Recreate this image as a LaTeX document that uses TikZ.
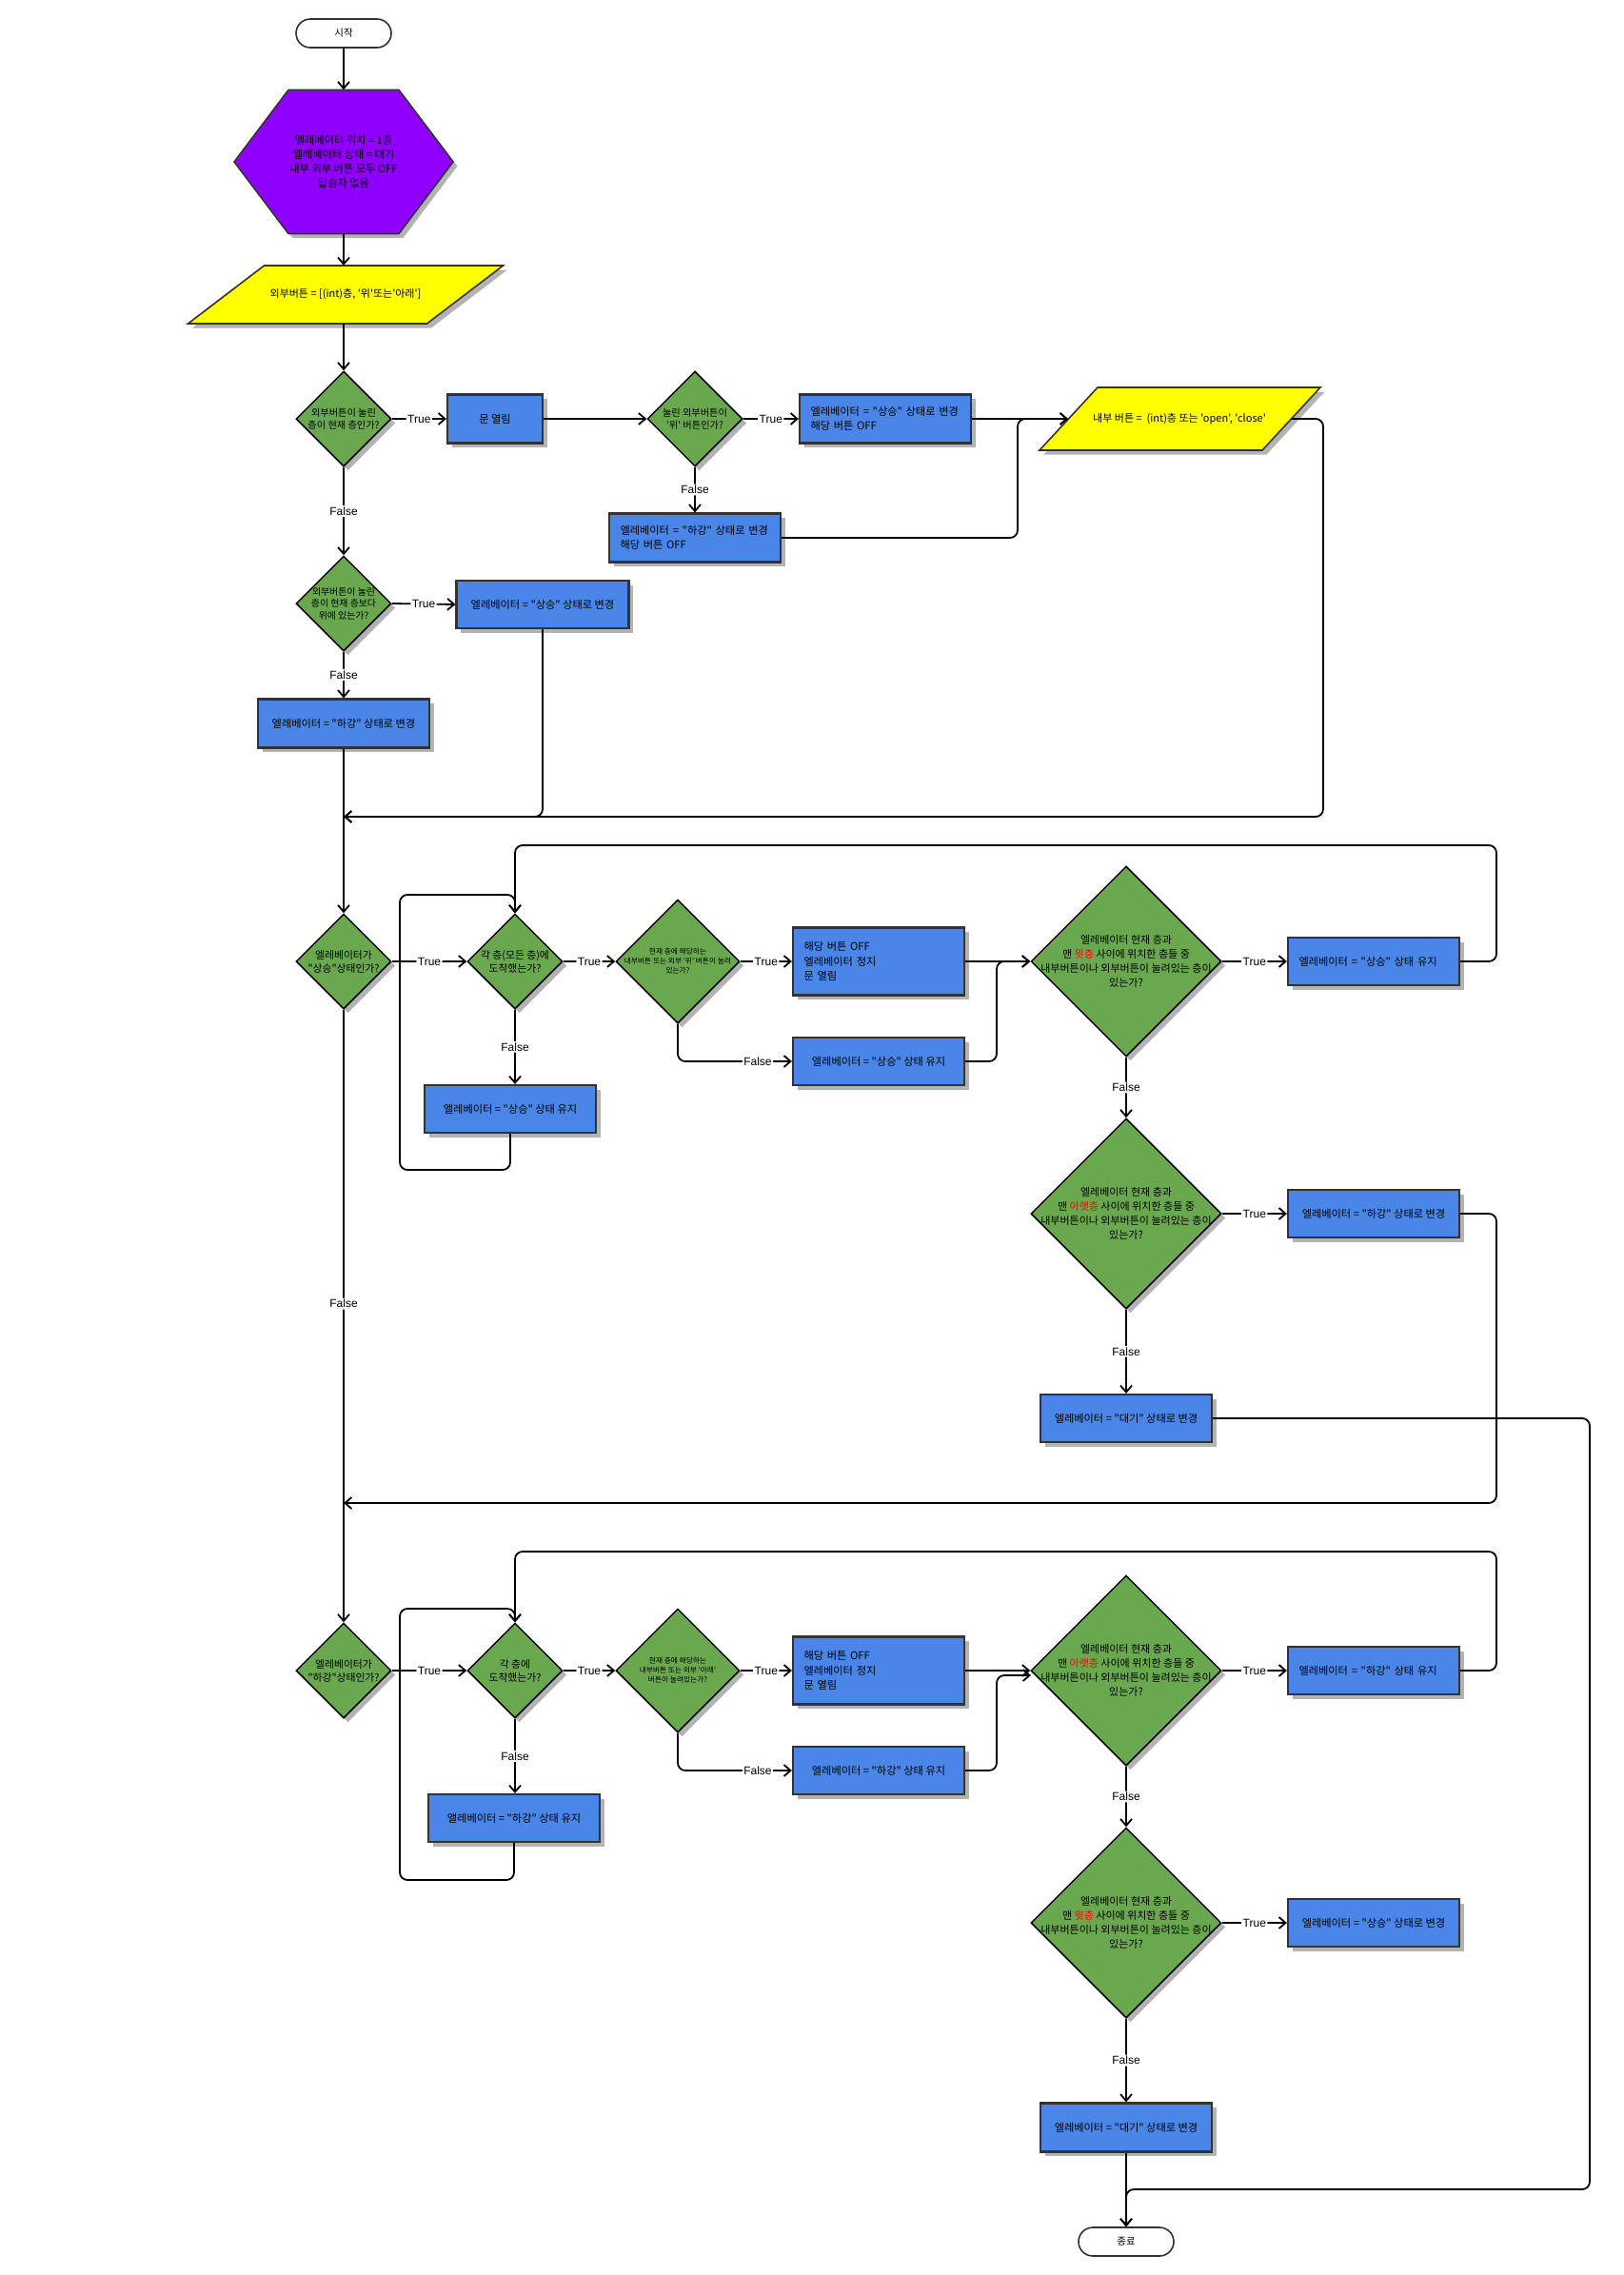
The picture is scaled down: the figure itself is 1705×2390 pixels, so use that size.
\documentclass[tikz,border=0pt]{standalone}
\usepackage{fontspec}
\newfontfamily\kr{Noto Sans CJK KR}
\newfontfamily\lbf{Liberation Sans}
\usetikzlibrary{shapes.geometric,shadows,arrows.meta}
\definecolor{hexpurple}{HTML}{9000FF}
\definecolor{yel}{HTML}{FFFF00}
\definecolor{grn}{HTML}{6AA84F}
\definecolor{blu}{HTML}{4A86E8}
\definecolor{bord}{HTML}{333333}
\definecolor{shd}{HTML}{B3B3B3}
\definecolor{redt}{HTML}{FF0000}
\newcommand{\kfs}[2]{\kr\fontsize{#1}{#2}\selectfont}
\begin{document}
\begin{tikzpicture}[x=1pt,y=-1pt,
  sh/.style={general shadow={fill=shd,shadow xshift=4.5pt,shadow yshift=-4.5pt}},
  term/.style={rectangle,rounded corners=15pt,draw=bord,line width=1.6pt,fill=white,minimum width=100pt,minimum height=30pt,inner sep=0pt,font=\kfs{10.5}{12}},
  dia/.style={diamond,draw=black,line width=1.5pt,fill=grn,inner sep=0pt,sh},
  dtext/.style={align=center,inner sep=0pt,font=\kfs{10.8}{14}},
  box/.style={rectangle,draw=bord,line width=2.2pt,fill=blu,inner sep=0pt,minimum width=180pt,minimum height=50pt,align=center,font=\kfs{11.2}{15.5},sh},
  lbox/.style={box,text width=157pt,align=left},
  conn/.style={draw=black,line width=1.8pt,rounded corners=8pt,-{Straight Barb[length=7pt,width=12pt]}},
  lbl/.style={fill=white,inner sep=1.5pt,font=\lbf\fontsize{12}{14}\selectfont},
  ptext/.style={inner sep=0pt,align=center,font=\kfs{11}{15}},
]
\fill[white] (0,0) rectangle (1705,2390);
\useasboundingbox (0,0) rectangle (1705,2390);

% ---------- top chain ----------
\node[term] (start) at (361,35) {시작};

\begin{scope}[shift={(4.5,4.5)}]
\fill[shd] (246,170) -- (303,94.5) -- (419,94.5) -- (476,170) -- (419,245.5) -- (303,245.5) -- cycle;
\end{scope}
\draw[bord,line width=1.6pt,fill=hexpurple] (246,170) -- (303,94.5) -- (419,94.5) -- (476,170) -- (419,245.5) -- (303,245.5) -- cycle;
\node[inner sep=0pt,minimum width=230pt,minimum height=151pt,align=center,font=\kfs{11.2}{15}] (hex) at (361,170) {엘레베이터 위치 = 1층\\엘레베이터 상태 = 대기\\내부 외부 버튼 모두 OFF\\탑승자 없음};

\begin{scope}[shift={(4.5,4.5)}]
\fill[shd] (197.5,340) -- (448.5,340) -- (528.5,279) -- (277.5,279) -- cycle;
\end{scope}
\draw[bord,line width=1.6pt,fill=yel] (197.5,340) -- (448.5,340) -- (528.5,279) -- (277.5,279) -- cycle;
\node[ptext,minimum width=331pt,minimum height=61pt] (p1) at (363,309.5) {외부버튼 = [(int)층, '위'또는'아래']};

\node[dia,minimum width=100pt,minimum height=100pt] (d1) at (361,440) {};
\node[dtext,font=\kfs{10.2}{13.5}] (d1t) at (d1) {외부버튼이 눌린\\층이 현재 층인가?};
\node[box,minimum width=100pt,minimum height=51pt] (b1) at (520,440) {문 열림};
\node[dia,minimum width=100pt,minimum height=100pt] (d2) at (730,440) {};
\node[dtext,font=\kfs{10.2}{13.5}] (d2t) at (d2) {눌린 외부버튼이\\'위' 버튼인가?};
\node[lbox,minimum height=51pt] (b2) at (930,440) {엘레베이터 = "상승" 상태로 변경\\해당 버튼 OFF};
\node[lbox,minimum height=51pt] (b3) at (730,565) {엘레베이터 = "하강" 상태로 변경\\해당 버튼 OFF};

\begin{scope}[shift={(4.5,4.5)}]
\fill[shd] (1092,473) -- (1326,473) -- (1387,407) -- (1153,407) -- cycle;
\end{scope}
\draw[bord,line width=1.6pt,fill=yel] (1092,473) -- (1326,473) -- (1387,407) -- (1153,407) -- cycle;
\node[ptext] (p2) at (1239,440) {내부 버튼 = \ (int)층 또는 'open', 'close'};
\coordinate (p2w) at (1122,440);
\coordinate (p2e) at (1356,440);

\node[dia,minimum width=100pt,minimum height=100pt] (d3) at (361,634) {};
\node[dtext,font=\kfs{9.9}{12.5}] (d3t) at (d3) {외부버튼이 눌린\\층이 현재 층보다\\위에 있는가?};
\node[box,minimum width=181pt] (b4) at (570,635) {엘레베이터 = "상승" 상태로 변경};
\node[box,minimum height=51pt] (b5) at (361,760) {엘레베이터 = "하강" 상태로 변경};
\coordinate (m1) at (361,858);

% ---------- up block ----------
\node[dia,minimum width=100pt,minimum height=100pt] (d4) at (361,1010) {};
\node[dtext] (d4t) at (d4) {엘레베이터가\\"상승"상태인가?};
\node[dia,minimum width=100pt,minimum height=100pt] (d5) at (541,1010) {};
\node[dtext] (d5t) at (d5) {각 층(모든 층)에\\도착했는가?};
\node[box] (b6) at (536,1165) {앨레베이터 = "상승" 상태 유지};
\node[dia,minimum width=130pt,minimum height=130pt] (d6) at (712,1010) {};
\node[dtext,font=\kfs{7.7}{10}] (d6t) at (d6) {현재 층에 해당하는\\내부버튼 또는 외부 '위' 버튼이 눌려\\있는가?};
\node[lbox,minimum height=71pt] (b7) at (923,1010) {해당 버튼 OFF\\엘레베이터 정지\\문 열림};
\node[box] (b8) at (923,1115) {앨레베이터 = "상승" 상태 유지};
\node[dia,minimum width=200pt,minimum height=200pt] (d7) at (1183,1010) {};
\node[dtext,font=\kfs{11}{15}] (d7t) at (d7) {엘레베이터 현재 층과\\맨 \textcolor{redt}{윗층} 사이에 위치한 층들 중\\내부버튼이나 외부버튼이 눌려있는 층이\\있는가?};
\node[lbox] (b9) at (1443,1010) {엘레베이터 = "상승" 상태 유지};
\node[dia,minimum width=200pt,minimum height=200pt] (d8) at (1183,1275) {};
\node[dtext,font=\kfs{11}{15}] (d8t) at (d8) {엘레베이터 현재 층과\\맨 \textcolor{redt}{아랫층} 사이에 위치한 층들 중\\내부버튼이나 외부버튼이 눌려있는 층이\\있는가?};
\node[box] (b10) at (1443,1275) {엘레베이터 = "하강" 상태로 변경};
\node[box] (b11) at (1183,1490) {엘레베이터 = "대기" 상태로 변경};
\coordinate (m2) at (361,1579);

% ---------- down block ----------
\node[dia,minimum width=100pt,minimum height=100pt] (d9) at (361,1755) {};
\node[dtext] (d9t) at (d9) {엘레베이터가\\"하강"상태인가?};
\node[dia,minimum width=100pt,minimum height=100pt] (d10) at (541,1755) {};
\node[dtext] (d10t) at (d10) {각 층에\\도착했는가?};
\node[box] (b12) at (540,1910) {앨레베이터 = "하강" 상태 유지};
\node[dia,minimum width=130pt,minimum height=130pt] (d11) at (712,1755) {};
\node[dtext,font=\kfs{7.7}{10}] (d11t) at (d11) {현재 층에 해당하는\\내부버튼 또는 외부 '아래'\\버튼이 눌려있는가?};
\node[lbox,minimum height=71pt] (b13) at (923,1755) {해당 버튼 OFF\\엘레베이터 정지\\문 열림};
\node[box] (b14) at (923,1860) {앨레베이터 = "하강" 상태 유지};
\node[dia,minimum width=200pt,minimum height=200pt] (d12) at (1183,1755) {};
\node[dtext,font=\kfs{11}{15}] (d12t) at (d12) {엘레베이터 현재 층과\\맨 \textcolor{redt}{아랫층} 사이에 위치한 층들 중\\내부버튼이나 외부버튼이 눌려있는 층이\\있는가?};
\node[lbox] (b15) at (1443,1755) {엘레베이터 = "하강" 상태 유지};
\coordinate (d12w) at (1083,1760);
\node[dia,minimum width=200pt,minimum height=200pt] (d13) at (1183,2020) {};
\node[dtext,font=\kfs{11}{15}] (d13t) at (d13) {엘레베이터 현재 층과\\맨 \textcolor{redt}{윗층} 사이에 위치한 층들 중\\내부버튼이나 외부버튼이 눌려있는 층이\\있는가?};
\node[box] (b16) at (1443,2020) {엘레베이터 = "상승" 상태로 변경};
\node[box,minimum height=51pt] (b17) at (1183,2235) {엘레베이터 = "대기" 상태로 변경};
\node[term] (fin) at (1183,2355) {종료};

% ---------- connectors ----------
\draw[conn] (start.south) -- (hex.north);
\draw[conn] (hex.south) -- (hex.south |- p1.north);
\draw[conn] (d1.north |- p1.south) -- (d1.north);
\draw[conn] (d1.east) -- node[lbl]{True} (b1.west);
\draw[conn] (b1.east) -- (d2.west);
\draw[conn] (d2.east) -- node[lbl]{True} (b2.west);
\draw[conn] (d2.south) -- node[lbl]{False} (b3.north);
\draw[conn] (b2.east) -- (p2w);
\draw[conn] (b3.east) -- (1069,565) -- (1069,440) -- (p2w);
\draw[conn] (p2e) -- (1390,440) -- (1390,858) -- (m1);
\draw[conn] (d1.south) -- node[lbl]{False} (d3.north);
\draw[conn] (d3.east) -- node[lbl]{True} (b4.west);
\draw[conn] (d3.south) -- node[lbl]{False} (b5.north);
\draw[conn] (b4.south) -- (570,858) -- (m1);
\draw[conn] (b5.south) -- (d4.north);

\draw[conn] (d4.east) -- node[lbl]{True} (d5.west);
\draw[conn] (d5.south) -- node[lbl]{False} (d5.south |- b6.north);
\draw[conn] (b6.south) -- (536,1229) -- (420,1229) -- (420,940) -- (541,940) -- (d5.north);
\draw[conn] (d5.east) -- node[lbl]{True} (d6.west);
\draw[conn] (d6.east) -- node[lbl]{True} (b7.west);
\draw[conn] (d6.south) |- node[lbl,pos=0.85]{False} (b8.west);
\draw[conn] (b7.east) -- (d7.west);
\draw[conn] (b8.east) -- (1047,1115) -- (1047,1010) -- (d7.west);
\draw[conn] (d7.east) -- node[lbl]{True} (b9.west);
\draw[conn] (b9.east) -- (1572,1010) -- (1572,888) -- (541,888) -- (d5.north);
\draw[conn] (d7.south) -- node[lbl]{False} (d8.north);
\draw[conn] (d8.east) -- node[lbl]{True} (b10.west);
\draw[conn] (b10.east) -- (1572,1275) -- (1572,1579) -- (m2);
\draw[conn] (d8.south) -- node[lbl]{False} (b11.north);
\draw[conn] (b11.east) -- (1670,1490) -- (1670,2300) -- (1183,2300) -- (fin.north);

\draw[conn] (d4.south) -- node[lbl,pos=0.48]{False} (d9.north);
\draw[conn] (d9.east) -- node[lbl]{True} (d10.west);
\draw[conn] (d10.south) -- node[lbl]{False} (d10.south |- b12.north);
\draw[conn] (b12.south) -- (540,1975) -- (420,1975) -- (420,1690) -- (541,1690) -- (d10.north);
\draw[conn] (d10.east) -- node[lbl]{True} (d11.west);
\draw[conn] (d11.east) -- node[lbl]{True} (b13.west);
\draw[conn] (d11.south) |- node[lbl,pos=0.85]{False} (b14.west);
\draw[conn] (b13.east) -- (d12.west);
\draw[conn] (b14.east) -- (1047,1860) -- (1047,1760) -- (d12w);
\draw[conn] (d12.east) -- node[lbl]{True} (b15.west);
\draw[conn] (b15.east) -- (1572,1755) -- (1572,1630) -- (541,1630) -- (d10.north);
\draw[conn] (d12.south) -- node[lbl]{False} (d13.north);
\draw[conn] (d13.east) -- node[lbl]{True} (b16.west);
\draw[conn] (d13.south) -- node[lbl]{False} (b17.north);
\draw[conn] (b17.south) -- (fin.north);
\end{tikzpicture}
\end{document}
